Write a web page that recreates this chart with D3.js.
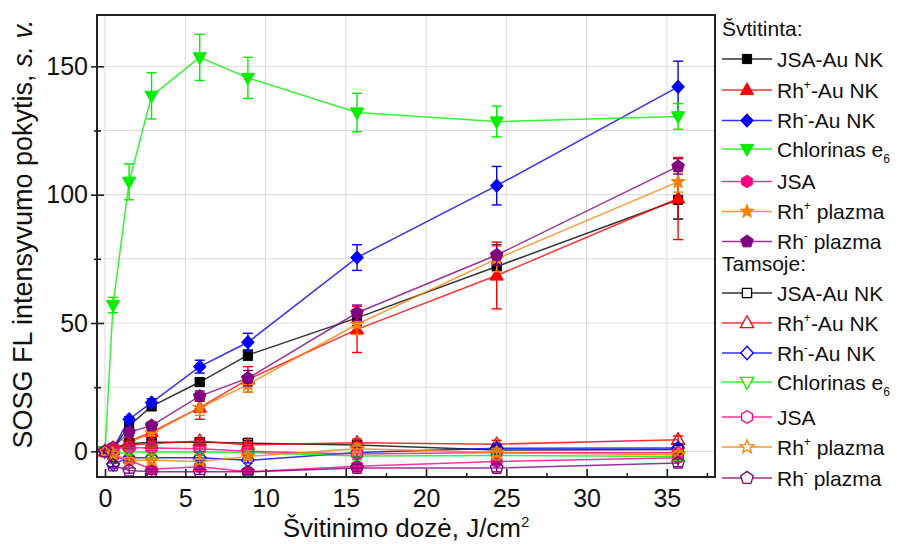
<!DOCTYPE html>
<html>
<head>
<meta charset="utf-8">
<script src="https://cdn.jsdelivr.net/npm/d3@7"></script>
<style>
  html, body { margin: 0; padding: 0; background: #fff; }
  svg { display: block; font-family: "Liberation Sans", Arial, sans-serif; }
</style>
</head>
<body>
<svg id="chart" width="897" height="544"></svg>
<script>
// Irradiation doses, J/cm^2
const doses = [0, 0.5, 1.5, 2.9, 5.9, 8.9, 15.7, 24.4, 35.7];

// Irradiated samples (Švitinta)
const litJsaAu      = [0, 1, 10, 17.5, 27, 37.5, 52, 72, 98];
const litJsaAuErr   = [0, 0.5, 1, 1.5, 1.5, 2, 3, 4, 7.5];
const litRhPlusAu   = [0, 0.5, 4, 7.5, 17, 28, 47.5, 68.5, 98.5];
const litRhPlusAuErr= [0, 0.5, 1, 1.5, 4.5, 5, 9, 13, 16];
const litRhMinAu    = [0, 1, 12.5, 19, 33, 42.5, 75.5, 103.5, 142];
const litRhMinAuErr = [0, 0.5, 1, 1.5, 2.5, 3.5, 5, 7.5, 10];
const litChlorin    = [0, 57, 105, 138.5, 153.5, 145.5, 132, 128.5, 130.5];
const litChlorinErr = [0, 3, 7, 9, 9, 8, 7.5, 6, 5];
const litJsa        = [0, -2, -3.5, -7, -6, -8, -5.8, -4, -2.5];
const litJsaErr     = [0, 0.5, 1, 1, 1, 1, 1, 1, 1];
const litRhPlusPl   = [0, 0.5, 3.5, 7, 17, 26, 49.5, 75, 105];
const litRhPlusPlErr= [0, 0.5, 1, 1.5, 3, 3, 4, 5, 4];
const litRhMinPl    = [0, 1.5, 7.5, 10, 21.5, 28.5, 54, 76.5, 111];
const litRhMinPlErr = [0, 0.5, 1, 1.5, 2, 3, 3, 4, 3];

// Samples kept in the dark (Tamsoje)
const darkJsaAu      = [0, 1, 3, 3.5, 3.5, 3.2, 2.5, 0.5, 0.7];
const darkRhPlusAu   = [0, 1, 2.5, 3, 4, 2.5, 3.3, 2.8, 4.5];
const darkRhMinAu    = [0, -5, -2.5, -2.5, -2.5, -3.5, -0.5, 1.2, 1.3];
const darkChlorin    = [0, -1, -0.3, -0.3, -0.3, -0.5, -1.8, -1.6, -2];
const darkJsa        = [0, 1, 1.5, 1.3, 1, 0, -1, -0.5, -0.6];
const darkRhPlusPl   = [0, -1, -3.5, -3.5, -4, -2, 1, -0.5, -1.3];
const darkRhMinPl    = [0, -5.5, -7.5, -8, -8, -8, -6.5, -6.5, -4.5];
const darkErr        = [0, 1, 1, 1, 1, 1, 1.5, 1.5, 1.5];

// Axis ticks
const xTickLabels = [0, 5, 10, 15, 20, 25, 30, 35];
const xMinorTicks = [2.5, 7.5, 12.5, 17.5, 22.5, 27.5, 32.5, 37.5];
const yTickLabels = [0, 50, 100, 150];
const yMinorTicks = [25, 75, 125];
const yGrid = [0, 25, 50, 75, 100, 125, 150];

// Legend labels: [text, "sup" | "sub" | ""]
const labelJsaAu    = [["JSA-Au NK", ""]];
const labelRhPlusAu = [["Rh", ""], ["+", "sup"], ["-Au NK", ""]];
const labelRhMinAu  = [["Rh", ""], ["-", "sup"], ["-Au NK", ""]];
const labelChlorin  = [["Chlorinas e", ""], ["6", "sub"]];
const labelJsa      = [["JSA", ""]];
const labelRhPlusPl = [["Rh", ""], ["+", "sup"], [" plazma", ""]];
const labelRhMinPl  = [["Rh", ""], ["-", "sup"], [" plazma", ""]];

const colors = {
  black: "#000000", red: "#ff0000", blue: "#0000ff", green: "#00f000",
  pink: "#ff0080", orange: "#ff8000", purple: "#800080"
};

const litSeries = [
  { label: labelJsaAu,    color: colors.black,  shape: "square",  values: litJsaAu,    err: litJsaAuErr },
  { label: labelRhPlusAu, color: colors.red,    shape: "triUp",   values: litRhPlusAu, err: litRhPlusAuErr },
  { label: labelRhMinAu,  color: colors.blue,   shape: "diamond", values: litRhMinAu,  err: litRhMinAuErr },
  { label: labelChlorin,  color: colors.green,  shape: "triDown", values: litChlorin,  err: litChlorinErr },
  { label: labelJsa,      color: colors.pink,   shape: "hexagon", values: litJsa,      err: litJsaErr },
  { label: labelRhPlusPl, color: colors.orange, shape: "star",    values: litRhPlusPl, err: litRhPlusPlErr },
  { label: labelRhMinPl,  color: colors.purple, shape: "pentagon",values: litRhMinPl,  err: litRhMinPlErr }
].map(s => ({ ...s, filled: true }));

const darkSeries = [
  { label: labelJsaAu,    color: colors.black,  shape: "square",  values: darkJsaAu },
  { label: labelRhPlusAu, color: colors.red,    shape: "triUp",   values: darkRhPlusAu },
  { label: labelRhMinAu,  color: colors.blue,   shape: "diamond", values: darkRhMinAu },
  { label: labelChlorin,  color: colors.green,  shape: "triDown", values: darkChlorin },
  { label: labelJsa,      color: colors.pink,   shape: "hexagon", values: darkJsa },
  { label: labelRhPlusPl, color: colors.orange, shape: "star",    values: darkRhPlusPl },
  { label: labelRhMinPl,  color: colors.purple, shape: "pentagon",values: darkRhMinPl }
].map(s => ({ ...s, err: darkErr, filled: false }));

// Layout
const frame = { left: 97, right: 715, top: 15, bottom: 477 };
const svg = d3.select("#chart");

const x = d3.scaleLinear().domain([-0.5, 38]).range([frame.left, frame.right]);
const y = d3.scaleLinear().domain([-10, 170]).range([frame.bottom, frame.top]);

// Marker outlines
function polygon(pts) {
  return "M" + pts.map(p => p[0].toFixed(2) + "," + p[1].toFixed(2)).join("L") + "Z";
}
function regular(n, r, startDeg) {
  const pts = [];
  for (let i = 0; i < n; i++) {
    const a = (startDeg + i * 360 / n) * Math.PI / 180;
    pts.push([r * Math.cos(a), r * Math.sin(a)]);
  }
  return pts;
}
function markerPath(shape) {
  switch (shape) {
    case "square":  return polygon([[-4.6, -4.6], [4.6, -4.6], [4.6, 4.6], [-4.6, 4.6]]);
    case "triUp":   return polygon([[0, -7.2], [6.6, 4.6], [-6.6, 4.6]]);
    case "triDown": return polygon([[0, 7.2], [6.6, -4.6], [-6.6, -4.6]]);
    case "diamond": return polygon([[0, -6.8], [6.3, 0], [0, 6.8], [-6.3, 0]]);
    case "hexagon": return polygon(regular(6, 6.2, -90));
    case "pentagon":return polygon(regular(5, 6.6, -90));
    case "star": {
      const pts = [];
      for (let i = 0; i < 10; i++) {
        const r = i % 2 === 0 ? 7.2 : 3.0;
        const a = (-90 + i * 36) * Math.PI / 180;
        pts.push([r * Math.cos(a), r * Math.sin(a)]);
      }
      return polygon(pts);
    }
  }
}

// Grid lines
const grid = svg.append("g").attr("stroke", "#dadada").attr("stroke-width", 1);
grid.selectAll("line.gx").data(xTickLabels).join("line")
  .attr("x1", d => x(d)).attr("x2", d => x(d))
  .attr("y1", frame.top).attr("y2", frame.bottom);
grid.selectAll("line.gy").data(yGrid).join("line")
  .attr("x1", frame.left).attr("x2", frame.right)
  .attr("y1", d => y(d)).attr("y2", d => y(d));

// Axes
const xAxis = d3.axisBottom(x).tickValues(xTickLabels).tickSizeInner(-8).tickSizeOuter(0).tickPadding(12);
const xAxisMinor = d3.axisBottom(x).tickValues(xMinorTicks).tickSizeInner(-4).tickSizeOuter(0).tickFormat("");
const yAxis = d3.axisLeft(y).tickValues(yTickLabels).tickSizeInner(6).tickSizeOuter(0).tickPadding(3);
const yAxisMinor = d3.axisLeft(y).tickValues(yMinorTicks).tickSizeInner(3).tickSizeOuter(0).tickFormat("");

function styleAxis(g) {
  g.select(".domain").remove();
  g.selectAll(".tick line").attr("stroke", "#222").attr("stroke-width", 1.6);
  g.selectAll(".tick text").attr("fill", "#111").style("font-size", "25px")
    .style("font-family", "'Liberation Sans', Arial, sans-serif");
}
svg.append("g").attr("transform", `translate(0,${frame.bottom})`).call(xAxis).call(styleAxis);
svg.append("g").attr("transform", `translate(0,${frame.bottom})`).call(xAxisMinor).call(styleAxis);
svg.append("g").attr("transform", `translate(${frame.left},0)`).call(yAxis).call(styleAxis);
svg.append("g").attr("transform", `translate(${frame.left},0)`).call(yAxisMinor).call(styleAxis);
// inward part of the y ticks
const yIn = d3.axisRight(y).tickValues(yTickLabels).tickSizeInner(7).tickSizeOuter(0).tickFormat("");
const yInMinor = d3.axisRight(y).tickValues(yMinorTicks).tickSizeInner(4).tickSizeOuter(0).tickFormat("");
svg.append("g").attr("transform", `translate(${frame.left},0)`).call(yIn).call(styleAxis);
svg.append("g").attr("transform", `translate(${frame.left},0)`).call(yInMinor).call(styleAxis);

// Series drawing
const line = d3.line().x(d => x(d.x)).y(d => y(d.y));

function drawSeries(series) {
  series.forEach(s => {
    const pts = doses.map((d, i) => ({ x: d, y: s.values[i], e: s.err[i] }));
    const g = svg.append("g");
    g.append("path").datum(pts).attr("d", line)
      .attr("fill", "none").attr("stroke", s.color).attr("stroke-width", 1.5)
      .attr("stroke-opacity", 0.8);
    const eb = g.append("g").attr("stroke", s.color).attr("stroke-width", 1.4);
    const withErr = pts.filter(p => p.e > 0);
    eb.selectAll("line.v").data(withErr).join("line")
      .attr("x1", p => x(p.x)).attr("x2", p => x(p.x))
      .attr("y1", p => y(p.y - p.e)).attr("y2", p => y(p.y + p.e));
    eb.selectAll("line.t").data(withErr).join("line")
      .attr("x1", p => x(p.x) - 5).attr("x2", p => x(p.x) + 5)
      .attr("y1", p => y(p.y + p.e)).attr("y2", p => y(p.y + p.e));
    eb.selectAll("line.b").data(withErr).join("line")
      .attr("x1", p => x(p.x) - 5).attr("x2", p => x(p.x) + 5)
      .attr("y1", p => y(p.y - p.e)).attr("y2", p => y(p.y - p.e));
    g.selectAll("path.m").data(pts).join("path")
      .attr("transform", p => `translate(${x(p.x)},${y(p.y)})`)
      .attr("d", markerPath(s.shape))
      .attr("fill", s.filled ? s.color : "none")
      .attr("stroke", s.color).attr("stroke-width", s.filled ? 1 : 1.3)
      .attr("stroke-linejoin", "round");
  });
}
drawSeries(litSeries);
drawSeries(darkSeries);

// Frame
svg.append("rect")
  .attr("x", frame.left).attr("y", frame.top)
  .attr("width", frame.right - frame.left).attr("height", frame.bottom - frame.top)
  .attr("fill", "none").attr("stroke", "#222").attr("stroke-width", 2);

// Axis titles
const xTitle = svg.append("text").attr("x", (frame.left + frame.right) / 2).attr("y", 537)
  .attr("text-anchor", "middle").style("font-size", "26px").attr("fill", "#111");
xTitle.append("tspan").text("Švitinimo dozė, J/cm");
xTitle.append("tspan").attr("dy", -10).style("font-size", "15px").text("2");

const yTitle = svg.append("text")
  .attr("transform", `translate(32,${(frame.top + frame.bottom) / 2 - 12}) rotate(-90)`)
  .attr("text-anchor", "middle").style("font-size", "27px").attr("fill", "#111");
yTitle.append("tspan").text("SOSG FL intensyvumo pokytis, ");
yTitle.append("tspan").style("font-style", "italic").text("s. v.");

// Legend
const legend = svg.append("g").style("font-size", "21px").attr("fill", "#111");
function legendLabel(textSel, parts) {
  let shift = 0;
  parts.forEach(([t, mode]) => {
    const ts = textSel.append("tspan").text(t);
    if (mode === "sup") { ts.attr("dy", -9 + shift).style("font-size", "12px"); shift = 9; }
    else if (mode === "sub") { ts.attr("dy", 6 + shift).style("font-size", "12px"); shift = -6; }
    else { ts.attr("dy", shift); shift = 0; }
  });
}
function legendBlock(title, titleY, series, rowsY) {
  legend.append("text").attr("x", 722).attr("y", titleY + 7).text(title);
  series.forEach((s, i) => {
    const cy = rowsY[i];
    legend.append("line").attr("x1", 722).attr("x2", 772).attr("y1", cy).attr("y2", cy)
      .attr("stroke", s.color).attr("stroke-width", 1.5).attr("stroke-opacity", 0.8);
    legend.append("path").attr("transform", `translate(747,${cy})`)
      .attr("d", markerPath(s.shape))
      .attr("fill", s.filled ? s.color : "#fff")
      .attr("stroke", s.color).attr("stroke-width", s.filled ? 1 : 1.3);
    const t = legend.append("text").attr("x", 777).attr("y", cy + 7.5);
    legendLabel(t, s.label);
  });
}
legendBlock("Švtitinta:", 29, litSeries, [59, 90, 120.5, 149, 181.5, 211.5, 241.5]);
legendBlock("Tamsoje:", 264, darkSeries, [293, 323, 353, 382, 417, 447, 478]);
</script>
</body>
</html>
